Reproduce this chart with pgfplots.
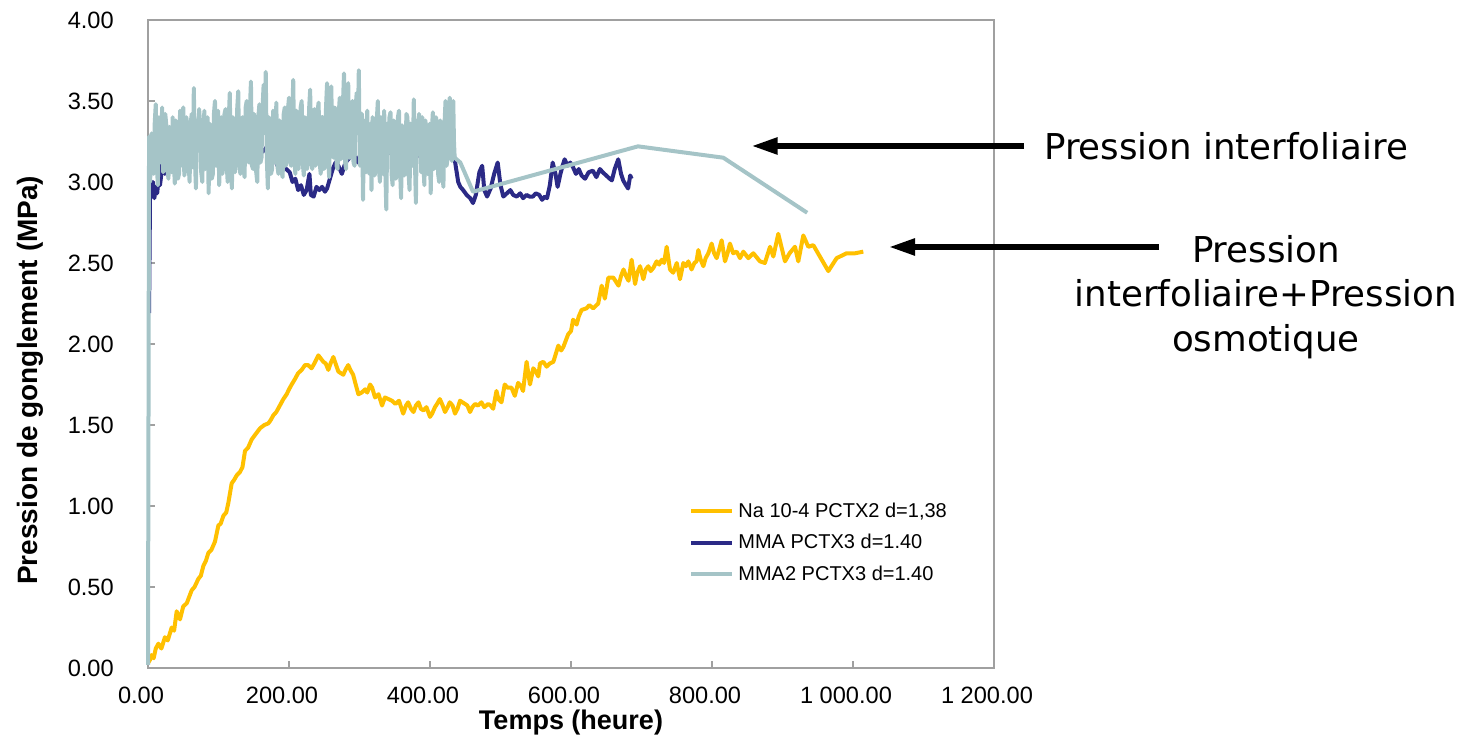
\documentclass[border=0pt]{standalone}
\usepackage{fontspec}
\setmainfont{Liberation Sans}
\newfontfamily\annotfont{DejaVu Sans}
\usepackage{pgfplots}
\pgfplotsset{compat=1.18}
\usetikzlibrary{arrows.meta}
\definecolor{naY}{HTML}{FFC000}
\definecolor{mmaN}{HTML}{2B2A86}
\definecolor{mmaL}{HTML}{A5C4C7}
\definecolor{axgray}{HTML}{A0A0A0}
\begin{document}
\begin{tikzpicture}
\path[use as bounding box] (0,0) rectangle (736pt,368.5pt);
\begin{axis}[
  at={(74pt,34.5pt)}, anchor=south west, scale only axis,
  width=423pt, height=324pt,
  xmin=0, xmax=1200, ymin=0, ymax=4,
  xtick={0,200,400,600,800,1000,1200},
  ytick={0,0.5,1,1.5,2,2.5,3,3.5,4},
  xtick pos=left, ytick pos=left,
  axis line style={axgray, line width=0.8pt},
  tick style={axgray, line width=0.8pt},
  tick align=inside, major tick length=3.5pt,
  /pgf/number format/fixed,
  /pgf/number format/fixed zerofill,
  /pgf/number format/precision=2,
  /pgf/number format/1000 sep={\ },
  /pgf/number format/assume math mode=true,
  ticklabel style={font=\fontsize{11.8}{14}\selectfont},
  xticklabel style={yshift=-6pt, xshift=-3.5pt},
  yticklabel style={xshift=-13.6pt},
  xlabel={Temps (heure)},
  ylabel={Pression de gonglement (MPa)},
  xlabel style={font=\fontsize{13.5}{16}\selectfont\bfseries, at={(axis description cs:0.5,-0.084)}, anchor=center},
  ylabel style={font=\fontsize{14}{16}\selectfont\bfseries, at={(axis description cs:-0.1395,0.444)}, anchor=center},
  legend style={at={(rel axis cs:0.6395,0.262)}, anchor=north west, draw=none, fill=none,
    font=\fontsize{10}{12}\selectfont, row sep=3pt, inner sep=0pt},
  legend cell align=left,
  legend image code/.code={\draw[#1] (0pt,0pt) -- (20.5pt,0pt);},
  clip=false,
]
\addplot[naY, line width=2pt, line join=round] table {
0 0.03
2.8 0.05
5 0.08
8 0.06
11 0.12
14.7 0.15
19 0.12
24 0.19
28 0.17
33.6 0.25
37 0.23
40.7 0.35
45.4 0.30
50 0.38
55 0.40
62 0.48
66 0.50
71.4 0.55
75 0.57
78.5 0.63
82 0.66
85.6 0.71
90 0.73
95 0.78
99.8 0.88
103 0.89
107 0.94
111 0.96
114 1.02
118.7 1.14
122 1.16
126 1.19
130.5 1.21
134 1.24
137.6 1.34
142 1.36
147 1.41
152 1.44
159 1.48
165 1.50
170.7 1.51
174 1.53
177.8 1.56
182 1.58
187 1.62
192 1.66
196.7 1.69
200 1.72
203.8 1.75
208 1.78
213 1.82
218 1.84
222.7 1.87
227 1.87
232 1.85
236 1.88
241.6 1.93
248.7 1.89
252 1.88
255.8 1.84
259 1.88
262.9 1.92
266 1.88
270 1.83
277 1.81
280 1.84
284 1.87
287 1.84
291 1.81
294 1.76
298.4 1.69
303 1.70
308 1.72
311 1.70
315 1.75
318 1.73
322 1.67
327 1.69
332 1.62
336 1.67
341 1.66
346 1.65
351 1.63
356 1.65
362 1.57
366 1.62
369 1.64
373 1.60
376.6 1.58
380 1.62
383.7 1.64
387 1.60
390.8 1.59
395 1.61
400 1.55
403 1.57
407 1.61
410 1.63
414 1.66
418 1.62
421.3 1.58
425 1.61
428 1.64
432 1.62
435.5 1.57
439 1.60
442.6 1.65
446 1.64
449.7 1.63
453 1.62
456.8 1.58
460 1.61
464 1.63
468 1.62
473 1.64
477 1.61
482.5 1.63
486 1.62
489.6 1.60
494.3 1.71
497 1.66
501.4 1.64
506 1.75
510 1.73
515.6 1.73
520.3 1.68
525 1.76
529 1.74
532 1.71
537 1.89
541.8 1.75
546.5 1.85
550 1.83
553.6 1.80
556 1.88
560.7 1.89
565.5 1.86
570 1.88
575 1.89
582 1.99
586 1.96
589 1.98
596 2.06
600 2.08
603 2.15
608 2.12
611 2.17
615 2.21
622 2.22
626 2.24
631.5 2.22
638.6 2.25
643.5 2.36
648 2.28
653 2.41
660 2.41
667.4 2.36
671 2.42
674.5 2.46
678 2.42
681.6 2.39
686 2.52
690.9 2.37
694 2.44
698 2.48
702.6 2.40
706 2.46
709.7 2.48
713 2.45
716.8 2.47
721.5 2.51
725 2.49
728.6 2.52
732 2.50
735.7 2.60
740.4 2.46
745 2.44
750 2.50
754.6 2.40
759.3 2.50
763 2.48
766.4 2.51
771 2.46
775 2.50
778 2.51
780.6 2.58
784 2.52
787.7 2.48
791 2.53
794.8 2.56
799.5 2.62
803 2.56
806.6 2.53
810 2.58
813.7 2.64
818.4 2.51
822 2.56
825.5 2.62
830 2.56
835 2.57
839.7 2.53
844.4 2.57
851.5 2.53
858.6 2.56
868 2.51
875 2.50
882.3 2.60
887 2.54
894 2.68
903.5 2.51
910 2.56
917.7 2.60
922.4 2.51
929.5 2.67
936.6 2.60
943.7 2.61
965 2.45
976.8 2.53
991 2.56
1003 2.56
1014.6 2.57
};
\addlegendentry{Na 10-4 PCTX2 d=1,38}
\addplot[mmaN, line width=2pt, line join=round] table {
1.5 2.19
3 2.98
5 2.92
7 3.00
9 2.90
11 2.97
13 2.93
15 3.02
17 2.98
19 3.05
21 3.22
24 3.05
27 3.12
30 3.08
35 3.15
40 3.10
45 3.27
50 3.15
55 3.20
60 3.10
65 3.18
70 3.22
75 3.25
78 3.30
82 3.18
88 3.12
94 3.20
100 3.15
106 3.22
112 3.10
118 3.18
124 3.12
130 3.20
136 3.14
142 3.22
148 3.16
154 3.10
160 3.18
166 3.20
172 3.24
178 3.15
184 3.10
190 3.12
196 3.08
201 3.06
205 3.00
209 3.02
213 2.95
217 2.98
221 2.92
225 2.95
229 3.05
231 2.92
235 2.91
239 2.97
243 2.95
247 2.97
251 2.94
254 2.96
258 3.02
262 3.08
266 3.12
270 3.10
275 3.05
280 3.12
286 3.15
292 3.18
298 3.12
304 3.16
310 3.20
316 3.15
322 3.10
328 3.18
334 3.14
340 3.20
346 3.17
352 3.22
358 3.24
364 3.18
370 3.12
376 3.16
382 3.20
388 3.14
394 3.18
400 3.22
406 3.16
412 3.24
419 3.30
425 3.20
430 3.25
435 3.14
440 3.00
443 2.97
447 2.95
452 2.92
457 2.90
461 2.87
465 2.92
470 3.06
474 3.10
477 2.95
481 2.91
486 2.96
491 3.05
496 3.12
500 2.98
504 2.91
509 2.93
514 2.95
518 2.92
523 2.91
528 2.93
532 2.90
537 2.92
541 2.91
546 2.91
550 2.93
555 2.92
559 2.89
563 2.91
566 2.90
570 2.98
574 3.12
578 3.05
581 2.97
585 3.05
588 3.10
591 3.14
595 3.10
599 3.12
603 3.09
607 3.05
611 3.08
615 3.04
620 3.02
625 3.06
631 3.07
636 3.03
641 3.08
645 3.06
650 3.04
655 3.02
658 3.01
662 3.08
667 3.14
671 3.05
674 3.01
678 2.98
681 2.96
684 3.04
686 3.02
};
\addlegendentry{MMA PCTX3 d=1.40}
\addplot[mmaL, line width=2pt, line join=round] table {
0 0.02
0.5 1.10
1.5 3.28
3 3.00
5 3.30
6.5 3.08
8 3.05
9.5 3.36
11 3.48
12.5 3.10
14 2.98
15.5 3.40
17 3.30
18.5 3.12
20 3.46
21.5 3.06
23 3.10
24.5 3.42
26 3.35
27.5 3.08
29 3.02
30.5 3.34
32 3.28
33.5 3.06
35 3.40
36.5 3.15
38 2.99
39.5 3.38
41 3.25
42.5 3.02
44 3.05
45.5 3.44
47 3.38
48.5 3.10
50 3.46
51.5 3.04
53 3.08
54.5 3.40
56 3.30
57.5 3.12
59 3.00
60.5 3.36
62 3.42
63.5 3.09
65 3.58
66.5 3.14
68 2.96
69.5 3.38
71 3.20
72.5 3.45
74 3.35
75.5 3.06
77 3.00
78.5 3.32
80 3.44
81.5 3.08
83 3.15
84.5 3.40
86 2.93
87.5 3.36
89 3.30
90.5 3.02
92 3.05
93.5 3.42
95 3.50
96.5 3.10
98 3.22
99.5 3.44
101 2.98
102.5 3.30
104 3.40
105.5 3.05
107 3.10
108.5 3.42
110 3.45
111.5 3.12
113 3.00
114.5 3.38
116 3.55
117.5 3.10
119 2.96
120.5 3.40
122 3.30
123.5 3.06
125 3.15
126.5 3.45
128 3.56
129.5 3.12
131 3.05
132.5 3.38
134 3.40
135.5 3.08
137 3.03
138.5 3.46
140 3.50
141.5 3.15
143 3.12
144.5 3.44
146 3.62
147.5 3.10
149 3.08
150.5 3.42
152 3.35
153.5 3.06
155 3.00
156.5 3.40
158 3.48
159.5 3.12
161 3.15
162.5 3.46
164 3.60
165.5 3.30
167 3.68
168.5 3.15
170 2.96
171.5 3.40
173 3.30
174.5 3.05
176 3.08
177.5 3.44
179 3.42
180.5 3.12
182 3.49
183.5 3.10
185 3.05
186.5 3.38
188 3.30
189.5 3.06
191 3.03
192.5 3.42
194 3.46
195.5 3.10
197 3.20
198.5 3.45
200 3.52
201.5 3.12
203 3.10
204.5 3.40
206 3.63
207.5 3.15
209 3.05
210.5 3.44
212 3.40
213.5 3.08
215 3.18
216.5 3.46
218 3.50
219.5 3.12
221 3.04
222.5 3.40
224 3.38
225.5 3.08
227 3.12
228.5 3.45
230 3.57
231.5 3.15
233 3.08
234.5 3.42
236 3.45
237.5 3.10
239 3.15
240.5 3.44
242 3.49
243.5 3.12
245 3.05
246.5 3.40
248 3.40
249.5 3.08
251 3.10
252.5 3.46
254 3.61
255.5 3.15
257 3.03
258.5 3.44
260 3.59
261.5 3.18
263 3.15
264.5 3.46
266 3.45
267.5 3.10
269 3.08
270.5 3.42
272 3.52
273.5 3.14
275 3.20
276.5 3.48
278 3.67
279.5 3.12
281 3.08
282.5 3.45
284 3.61
285.5 3.15
287 3.15
288.5 3.44
290 3.50
291.5 3.12
293 3.10
294.5 3.46
296 3.55
297.5 3.30
299 3.69
300.5 3.10
302 3.20
303.5 3.42
305 2.89
306.5 3.38
308 3.30
309.5 3.06
311 3.44
312.5 3.10
314 3.05
315.5 3.36
317 2.95
318.5 3.40
320 3.35
321.5 3.04
323 3.10
324.5 3.38
326 3.50
327.5 3.08
329 3.00
330.5 3.40
332 3.30
333.5 3.05
335 3.44
336.5 3.10
338 2.83
339.5 3.36
341 3.20
342.5 3.40
344 3.43
345.5 3.05
347 2.98
348.5 3.38
350 3.30
351.5 3.02
353 3.05
354.5 3.40
356 3.44
357.5 3.08
359 2.90
360.5 3.35
362 3.25
363.5 3.04
365 3.10
366.5 3.42
368 3.40
369.5 3.06
371 2.95
372.5 3.36
374 3.30
375.5 3.10
377 3.51
378.5 3.15
380 2.87
381.5 3.38
383 3.20
384.5 3.42
386 3.35
387.5 3.06
389 3.40
390.5 3.12
392 2.98
393.5 3.38
395 3.25
396.5 3.05
398 3.05
399.5 3.36
401 2.93
402.5 3.30
404 3.43
405.5 3.08
407 3.10
408.5 3.40
410 3.35
411.5 3.05
413 3.00
414.5 3.38
416 3.30
417.5 3.06
419 2.97
420.5 3.35
422 3.50
423.5 3.10
425 3.15
426.5 3.44
428 3.52
429.5 3.20
431 3.13
432 3.45
433 3.50
434 3.25
435 3.15
443 3.12
461 2.94
695 3.22
816 3.15
935 2.81
};
\addlegendentry{MMA2 PCTX3 d=1.40}
\end{axis}
\draw[line width=2.7pt, -{Triangle[length=13pt,width=8pt]}] (512pt,295.5pt) -- (375.8pt,295.5pt);
\draw[line width=2.7pt, -{Triangle[length=13pt,width=8pt]}] (579.5pt,245pt) -- (444.5pt,245pt);
\node[anchor=base west, inner sep=0pt, font=\annotfont\fontsize{17.8}{20}\selectfont] at (521.9pt,288.5pt) {Pression interfoliaire};
\node[anchor=base, inner sep=0pt, font=\annotfont\fontsize{17.8}{20}\selectfont] at (633pt,237.2pt) {Pression};
\node[anchor=base, inner sep=0pt, font=\annotfont\fontsize{17.8}{20}\selectfont] at (633pt,215.2pt) {interfoliaire+Pression};
\node[anchor=base, inner sep=0pt, font=\annotfont\fontsize{17.8}{20}\selectfont] at (633pt,192.7pt) {osmotique};
\end{tikzpicture}
\end{document}
